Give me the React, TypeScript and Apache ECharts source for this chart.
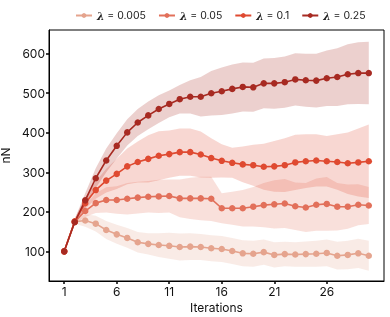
import React, { useEffect, useRef } from "react";
import * as echarts from "echarts";

const iterations = Array.from({ length: 30 }, (_, i) => i + 1);
const lambdas = ["0.005", "0.05", "0.1", "0.25"];
const colors = ["#e5a48e", "#e2705a", "#df4a31", "#a72a22"];

const mean005 = [100, 175, 178, 170, 154, 143, 134, 123, 119, 116, 114, 111, 112, 111, 108, 106, 101, 95, 94, 98, 91, 93, 92, 93, 94, 96, 89, 91, 95, 89];
const std005 = [0, 5, 16, 20, 23, 24, 25, 26, 27, 30, 33, 34, 34, 33, 33, 33, 33, 33, 33, 32, 32, 31, 31, 32, 33, 34, 35, 36, 37, 38];

const mean05 = [100, 175, 202, 222, 230, 230, 233, 236, 238, 239, 240, 234, 234, 234, 233, 209, 209, 209, 213, 217, 219, 221, 214, 211, 218, 220, 213, 213, 218, 216];
const std05 = [0, 6, 15, 25, 32, 35, 40, 40, 40, 42, 42, 48, 52, 55, 56, 38, 42, 46, 50, 56, 61, 62, 60, 62, 66, 68, 60, 56, 52, 47];

const mean1 = [100, 176, 222, 255, 279, 296, 315, 326, 334, 342, 346, 351, 351, 345, 336, 329, 324, 320, 318, 314, 315, 318, 325, 328, 330, 328, 326, 323, 325, 328];
const std1 = [0, 8, 15, 22, 30, 38, 45, 52, 60, 62, 60, 60, 60, 58, 50, 42, 38, 45, 52, 58, 64, 68, 70, 68, 66, 64, 70, 78, 86, 93];

const mean25 = [100, 174, 229, 285, 330, 367, 401, 426, 444, 460, 473, 485, 491, 491, 500, 505, 511, 516, 515, 525, 525, 528, 535, 533, 532, 538, 541, 548, 551, 551];
const std25 = [0, 8, 18, 25, 30, 32, 33, 34, 35, 35, 34, 36, 42, 50, 56, 60, 62, 62, 62, 63, 64, 65, 66, 67, 68, 70, 73, 76, 78, 79];

const xTicks = [1, 6, 11, 16, 21, 26];
const yTicks = [100, 200, 300, 400, 500, 600];

const means = [mean005, mean05, mean1, mean25];
const stds = [std005, std05, std1, std25];

const FONT = "Inter";

function hexA(hex: string, a: number) {
  const r = parseInt(hex.slice(1, 3), 16);
  const g = parseInt(hex.slice(3, 5), 16);
  const b = parseInt(hex.slice(5, 7), 16);
  return `rgba(${r},${g},${b},${a})`;
}

export default function App() {
  const ref = useRef<HTMLDivElement>(null);
  useEffect(() => {
    if (!ref.current) return;
    const chart = echarts.init(ref.current, undefined, { renderer: "svg" });
    const names = lambdas.map((l) => `λ = ${l}`);
    const series: any[] = [];
    lambdas.forEach((l, k) => {
      const m = means[k];
      const s = stds[k];
      const rows = iterations.map((x, i) => [x, m[i] - s[i], m[i] + s[i]]);
      series.push({
        type: "custom",
        name: `band-${l}`,
        data: rows,
        encode: { x: 0, y: [1, 2] },
        silent: true,
        z: 1,
        renderItem: (params: any, api: any) => {
          if (params.dataIndex !== 0) return null;
          const upper = rows.map((r) => api.coord([r[0], r[2]]));
          const lower = rows.map((r) => api.coord([r[0], r[1]])).reverse();
          return {
            type: "polygon",
            shape: { points: upper.concat(lower) },
            style: { fill: hexA(colors[k], 0.22), stroke: "none" },
          };
        },
      });
    });
    lambdas.forEach((l, k) => {
      series.push({
        type: "line",
        name: names[k],
        data: iterations.map((x, i) => [x, means[k][i]]),
        symbol: "circle",
        symbolSize: 6.5,
        showSymbol: true,
        itemStyle: { color: colors[k] },
        lineStyle: { color: colors[k], width: 1.6 },
        z: 3,
      });
    });

    chart.setOption({
      animation: false,
      textStyle: { fontFamily: FONT },
      legend: {
        data: names,
        left: 70,
        top: 5,
        itemWidth: 16,
        itemHeight: 6,
        itemGap: 12,
        formatter: (name: string) => `{i|λ}{t|${name.slice(1)}}`,
        textStyle: {
          fontFamily: FONT,
          fontSize: 10.5,
          color: "#222",
          rich: {
            i: { fontStyle: "italic", fontWeight: "bold", fontSize: 10.5, fontFamily: "DejaVu Serif", color: "#222" },
            t: { fontSize: 10.5, fontFamily: FONT, color: "#222" },
          },
        },
      },
      grid: {
        left: 49,
        right: 6,
        top: 30,
        bottom: 36,
        outerBoundsMode: "none",
        containLabel: false,
        show: true,
        borderColor: "#000",
        borderWidth: 1,
        backgroundColor: "transparent",
      },
      xAxis: {
        type: "value",
        min: -0.45,
        max: 31.45,
        name: "Iterations",
        nameLocation: "middle",
        nameGap: 17,
        nameTextStyle: { fontFamily: FONT, fontSize: 12, color: "#111", verticalAlign: "top" },
        axisLine: { show: true, onZero: false, lineStyle: { color: "#000", width: 1 } },
        axisTick: { show: true, customValues: xTicks, length: 3, lineStyle: { color: "#000", width: 1.5 } },
        axisLabel: { customValues: xTicks, fontFamily: FONT, fontSize: 12, color: "#111", margin: 4 },
        splitLine: { show: false },
      },
      yAxis: {
        type: "value",
        min: 25,
        max: 660,
        name: "nN",
        nameLocation: "middle",
        nameGap: 29,
        nameTextStyle: { fontFamily: FONT, fontSize: 12, lineHeight: 12, color: "#111" },
        axisLine: { show: true, onZero: false, lineStyle: { color: "#000", width: 1 } },
        axisTick: { show: true, customValues: yTicks, length: 3, lineStyle: { color: "#000", width: 1.5 } },
        axisLabel: { customValues: yTicks, fontFamily: FONT, fontSize: 12, color: "#111", margin: 4 },
        splitLine: { show: false },
      },
      series,
    });
    return () => chart.dispose();
  }, []);
  return <div ref={ref} style={{ position: "fixed", left: 0, top: 0, width: 390, height: 317 }} />;
}
